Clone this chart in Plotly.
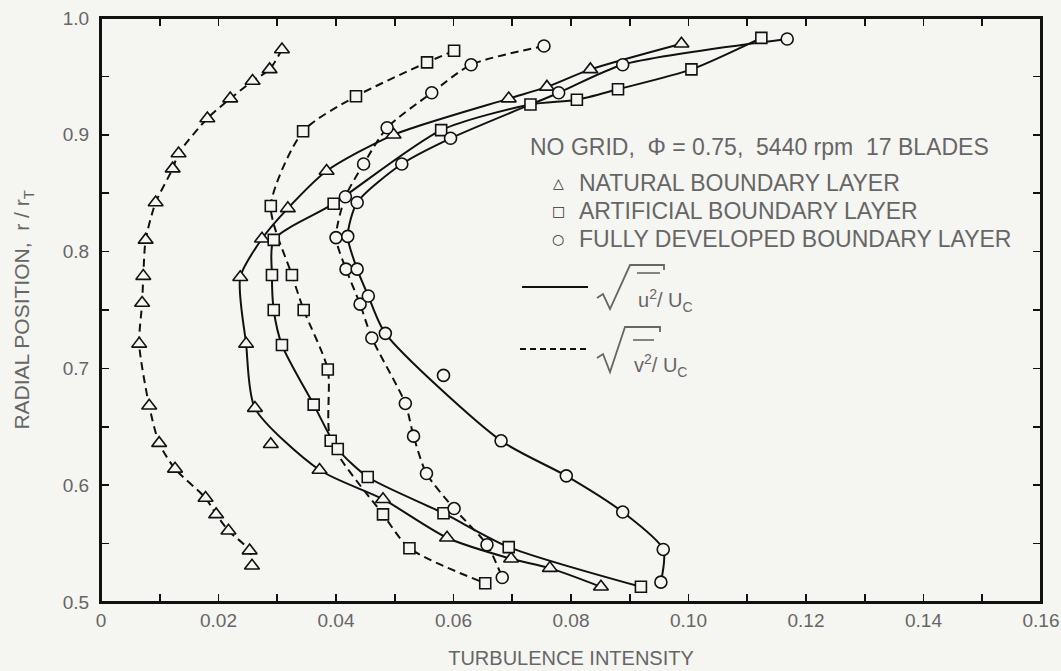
import plotly.graph_objects as go

# ---------------- data ----------------
# Natural boundary layer, sqrt(v'^2)/Uc  (dashed, triangles)
nat_v_x = [0.0308, 0.0287, 0.0258, 0.0220, 0.0181, 0.0132, 0.0122, 0.0093, 0.0076, 0.0072,
           0.0070, 0.0065, 0.0082, 0.0099, 0.0126, 0.0178, 0.0196, 0.0217, 0.0253, 0.0257]
nat_v_y = [0.973, 0.956, 0.946, 0.931, 0.914, 0.884, 0.871, 0.842, 0.810, 0.779,
           0.756, 0.721, 0.668, 0.636, 0.614, 0.589, 0.575, 0.561, 0.544, 0.531]

# Natural boundary layer, sqrt(u'^2)/Uc  (solid, triangles)
nat_u_x = [0.0988, 0.0833, 0.0759, 0.0694, 0.0498, 0.0384, 0.0318, 0.0274, 0.0237, 0.0247,
           0.0262, 0.0372, 0.0480, 0.0589, 0.0698, 0.0764, 0.0851]
nat_u_y = [0.978, 0.956, 0.941, 0.931, 0.900, 0.869, 0.837, 0.811, 0.778, 0.721,
           0.666, 0.613, 0.588, 0.555, 0.537, 0.529, 0.513]
nat_u_off_x = [0.0289]   # measured point lying off the faired curve
nat_u_off_y = [0.635]

# Artificial boundary layer, v' (dashed, squares)
art_v_x = [0.0601, 0.0555, 0.0434, 0.0344, 0.0289, 0.0325, 0.0345, 0.0386, 0.0391, 0.0480, 0.0525, 0.0654]
art_v_y = [0.972, 0.962, 0.933, 0.903, 0.839, 0.780, 0.750, 0.699, 0.638, 0.575, 0.546, 0.516]

# Artificial boundary layer, u' (solid, squares)
art_u_x = [0.1124, 0.1005, 0.0880, 0.0810, 0.0731, 0.0579, 0.0396, 0.0294, 0.0291, 0.0294,
           0.0308, 0.0362, 0.0403, 0.0454, 0.0583, 0.0694, 0.0919]
art_u_y = [0.983, 0.956, 0.939, 0.930, 0.926, 0.904, 0.841, 0.810, 0.780, 0.750,
           0.720, 0.669, 0.631, 0.607, 0.576, 0.547, 0.513]

# Fully developed boundary layer, v' (dashed, circles)
full_v_x = [0.0754, 0.0630, 0.0563, 0.0487, 0.0447, 0.0416, 0.0400, 0.0417, 0.0441, 0.0461,
            0.0518, 0.0532, 0.0554, 0.0601, 0.0657, 0.0683]
full_v_y = [0.976, 0.960, 0.936, 0.906, 0.875, 0.847, 0.812, 0.785, 0.755, 0.726,
            0.670, 0.642, 0.610, 0.580, 0.549, 0.521]

# Fully developed boundary layer, u' (solid, circles)
full_u_x = [0.1168, 0.0888, 0.0779, 0.0595, 0.0512, 0.0436, 0.0420, 0.0436, 0.0455, 0.0484,
            0.0681, 0.0792, 0.0888, 0.0957, 0.0953]
full_u_y = [0.982, 0.960, 0.936, 0.897, 0.875, 0.842, 0.813, 0.785, 0.762, 0.730,
            0.638, 0.608, 0.577, 0.545, 0.517]
full_u_off_x = [0.0583]
full_u_off_y = [0.694]

title_text = "NO GRID,  \u03a6 = 0.75,  5440 rpm  17 BLADES"
legend_names = ["NATURAL BOUNDARY LAYER", "ARTIFICIAL BOUNDARY LAYER", "FULLY DEVELOPED BOUNDARY LAYER"]
legend_syms = ["\u25b3", "\u25a1", "\u25cb"]

# ---------------- figure ----------------
W, H = 1061, 671
L, R, T, B = 101, 1041, 18, 602          # plot-area edges in window pixels
BG = "#f5f5f2"
INK = "#111111"
TXT = "#666666"
FONT = "Liberation Sans, Arial, sans-serif"


def pxx(x):
    return (x - L) / (R - L)


def pxy(y):
    return (B - y) / (B - T)


fig = go.Figure()

curves = [
    (nat_v_x, nat_v_y, "8px,5px"),
    (nat_u_x, nat_u_y, "solid"),
    (art_v_x, art_v_y, "8px,5px"),
    (art_u_x, art_u_y, "solid"),
    (full_v_x, full_v_y, "8px,5px"),
    (full_u_x, full_u_y, "solid"),
]
for cx, cy, dash in curves:
    fig.add_trace(go.Scatter(x=cx, y=cy, mode="lines",
                             line=dict(color=INK, width=2, dash=dash, shape="spline", smoothing=0.7),
                             hoverinfo="skip", showlegend=False))

points = [
    (nat_v_x, nat_v_y, "triangle-up", 13),
    (nat_u_x + nat_u_off_x, nat_u_y + nat_u_off_y, "triangle-up", 13),
    (art_v_x, art_v_y, "square", 11),
    (art_u_x, art_u_y, "square", 11),
    (full_v_x, full_v_y, "circle", 12),
    (full_u_x + full_u_off_x, full_u_y + full_u_off_y, "circle", 12),
]
for mx, my, sym, size in points:
    fig.add_trace(go.Scatter(x=mx, y=my, mode="markers",
                             marker=dict(symbol=sym, size=size, color=BG,
                                         line=dict(color=INK, width=1.6)),
                             showlegend=False))

axis_common = dict(showline=True, linecolor=INK, linewidth=2, mirror="ticks",
                   ticks="inside", ticklen=8, tickwidth=1.6, tickcolor=INK,
                   showgrid=False, zeroline=False, automargin=False,
                   tickfont=dict(family=FONT, size=19, color=TXT))

fig.update_xaxes(range=[0, 0.16], tickmode="linear", tick0=0, dtick=0.02, tickformat=".2f",
                 labelalias={"0.00": "0"},
                 minor=dict(tickmode="linear", tick0=0, dtick=0.01, ticks="inside", ticklen=8,
                            tickwidth=1.6, tickcolor=INK, showgrid=False),
                 ticklabelstandoff=0,
                 title=dict(text="TURBULENCE INTENSITY", font=dict(family=FONT, size=20, color=TXT), standoff=21),
                 **axis_common)
fig.update_yaxes(range=[0.5, 1.0], tickmode="linear", tick0=0.5, dtick=0.1, tickformat=".1f",
                 minor=dict(tickmode="linear", tick0=0.5, dtick=0.05, ticks="inside", ticklen=8,
                            tickwidth=1.6, tickcolor=INK, showgrid=False),
                 ticklabelstandoff=6,
                 title=dict(text="RADIAL POSITION,  r / r<sub>T</sub>", font=dict(family=FONT, size=21, color=TXT), standoff=27),
                 **axis_common)

annotations = []
annotations.append(dict(x=pxx(528), y=pxy(147), xref="paper", yref="paper", xanchor="left", yanchor="middle",
                        text=title_text, showarrow=False, font=dict(family=FONT, size=23, color=TXT)))
for i, (nm, sy) in enumerate(zip(legend_names, legend_syms)):
    yy = [183, 211, 239][i]
    annotations.append(dict(x=pxx(558), y=pxy(yy), xref="paper", yref="paper", xanchor="center", yanchor="middle",
                            text=sy, showarrow=False, font=dict(family="DejaVu Sans", size=14, color="#333")))
    annotations.append(dict(x=pxx(577), y=pxy(yy), xref="paper", yref="paper", xanchor="left", yanchor="middle",
                            text=nm, showarrow=False, font=dict(family=FONT, size=23, color=TXT)))
annotations.append(dict(x=pxx(636), y=pxy(300), xref="paper", yref="paper", xanchor="left", yanchor="middle",
                        text="u<sup>2</sup>/ U<sub>C</sub>", showarrow=False, font=dict(family=FONT, size=20, color=TXT)))
annotations.append(dict(x=pxx(632), y=pxy(366), xref="paper", yref="paper", xanchor="left", yanchor="middle",
                        text="v<sup>2</sup>/ U<sub>C</sub>", showarrow=False, font=dict(family=FONT, size=20, color=TXT)))

shapes = []
# plot frame
shapes.append(dict(type="rect", xref="paper", yref="paper", x0=0, x1=1, y0=0, y1=1,
                   line=dict(color=INK, width=2), fillcolor="rgba(0,0,0,0)", layer="above"))
# legend line samples
shapes.append(dict(type="line", xref="paper", yref="paper", x0=pxx(522), x1=pxx(588), y0=pxy(287), y1=pxy(287),
                   line=dict(color=INK, width=2)))
shapes.append(dict(type="line", xref="paper", yref="paper", x0=pxx(520), x1=pxx(588), y0=pxy(349), y1=pxy(349),
                   line=dict(color=INK, width=2, dash="6px,4px")))


def radical(pts):
    d = "M " + " L ".join(f"{pxx(a):.5f},{pxy(b):.5f}" for a, b in pts)
    return dict(type="path", xref="paper", yref="paper", path=d, line=dict(color=TXT, width=1.8))


shapes.append(radical([(597, 298), (603, 294), (610, 309), (630, 265), (664, 265), (664, 270)]))
shapes.append(dict(type="line", xref="paper", yref="paper", x0=pxx(637), x1=pxx(660), y0=pxy(273), y1=pxy(273),
                   line=dict(color=TXT, width=1.6)))
shapes.append(radical([(597, 358), (603, 354), (610, 372), (625, 327), (660, 327), (660, 332)]))
shapes.append(dict(type="line", xref="paper", yref="paper", x0=pxx(633), x1=pxx(654), y0=pxy(340), y1=pxy(340),
                   line=dict(color=TXT, width=1.6)))

fig.update_layout(width=W, height=H, autosize=False,
                  margin=dict(l=L, r=W - R, t=T, b=H - B, pad=0),
                  paper_bgcolor=BG, plot_bgcolor=BG,
                  annotations=annotations, shapes=shapes,
                  showlegend=False)

page_fix = ("document.body.style.margin='0px';"
            "document.body.style.overflow='hidden';"
            "document.body.style.background='%s';" % BG)
fig.write_html("out.html", post_script=page_fix, config={"displayModeBar": False, "staticPlot": True})
